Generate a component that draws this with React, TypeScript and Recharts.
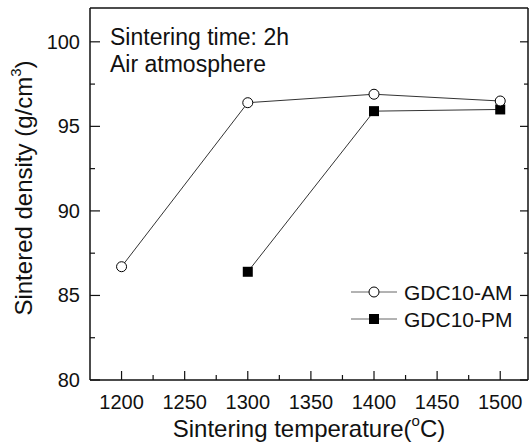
import { LineChart, Line, XAxis, YAxis, Legend } from "recharts";

const amTemps = [1200, 1300, 1400, 1500];
const amDensity = [86.7, 96.4, 96.9, 96.5];
const pmTemps = [1300, 1400, 1500];
const pmDensity = [86.4, 95.9, 96.0];

const xTicks = [1200, 1225, 1250, 1275, 1300, 1325, 1350, 1375, 1400, 1425, 1450, 1475, 1500];
const yTicks = [80, 82.5, 85, 87.5, 90, 92.5, 95, 97.5, 100];

const amData = amTemps.map((t, i) => ({ t, am: amDensity[i] }));
const pmData = pmTemps.map((t, i) => ({ t, pm: pmDensity[i] }));

const FONT = "'Liberation Sans', Arial, sans-serif";
const INK = "#111";

const isMajorX = (v: number) => v % 50 === 0;
const isMajorY = (v: number) => v % 5 === 0;

const BottomTick = (props: any) => {
  const { x, y, payload } = props;
  const major = isMajorX(payload.value);
  return (
    <g>
      <line x1={x} y1={y} x2={x} y2={y - (major ? 9 : 5)} stroke={INK} strokeWidth={1.2} />
      {major && (
        <text x={x} y={y + 29} textAnchor="middle" fontSize={20} fontFamily={FONT} fill={INK}>
          {payload.value}
        </text>
      )}
    </g>
  );
};

const TopTick = (props: any) => {
  const { x, y, payload } = props;
  const major = isMajorX(payload.value);
  return <line x1={x} y1={y} x2={x} y2={y + (major ? 8 : 4)} stroke={INK} strokeWidth={1.2} />;
};

const LeftTick = (props: any) => {
  const { x, y, payload } = props;
  const major = isMajorY(payload.value);
  return (
    <g>
      <line x1={x} y1={y} x2={x + (major ? 10 : 5)} y2={y} stroke={INK} strokeWidth={1.2} />
      {major && (
        <text x={x - 10} y={y + 7} textAnchor="end" fontSize={20} fontFamily={FONT} fill={INK}>
          {payload.value}
        </text>
      )}
    </g>
  );
};

const RightTick = (props: any) => {
  const { x, y, payload } = props;
  const major = isMajorY(payload.value);
  return <line x1={x} y1={y} x2={x - (major ? 8 : 4)} y2={y} stroke={INK} strokeWidth={1.2} />;
};

const SquareDot = (props: any) => {
  const { cx, cy, key } = props;
  if (cx == null || cy == null) return <g key={key} />;
  return <rect key={key} x={cx - 5} y={cy - 5} width={10} height={10} fill="#000" />;
};

const XTitle = (props: any) => {
  const { viewBox } = props;
  const cx = viewBox.x + viewBox.width / 2;
  return (
    <text x={cx} y={viewBox.y + 57} textAnchor="middle" fontSize={24} fontFamily={FONT} fill={INK}>
      Sintering temperature(
      <tspan dy={-11} fontSize={15}>o</tspan>
      <tspan dy={11}>C)</tspan>
    </text>
  );
};

const YTitle = () => (
  <text
    x={32}
    y={188}
    transform="rotate(-90 32 188)"
    textAnchor="middle"
    fontSize={24}
    fontFamily={FONT}
    fill={INK}
  >
    Sintered density (g/cm
    <tspan dy={-11} fontSize={15}>3</tspan>
    <tspan dy={11}>)</tspan>
  </text>
);

const legendItems = [
  { name: "GDC10-AM", marker: "circle" },
  { name: "GDC10-PM", marker: "square" },
];

const LegendBox = () => (
  <svg width={180} height={60} style={{ display: "block" }}>
    {legendItems.map((item, i) => {
      const cy = 12 + i * 27;
      return (
        <g key={item.name}>
          <line x1={0} y1={cy} x2={46} y2={cy} stroke="#666" strokeWidth={1} />
          {item.marker === "circle" ? (
            <circle cx={23} cy={cy} r={5} fill="#fff" stroke="#000" strokeWidth={1} />
          ) : (
            <rect x={18} y={cy - 5} width={10} height={10} fill="#000" />
          )}
          <text x={53} y={cy + 7.5} fontSize={21} fontFamily={FONT} fill={INK}>
            {item.name}
          </text>
        </g>
      );
    })}
  </svg>
);

export default function App() {
  return (
    <div style={{ position: "absolute", left: 0, top: 0, width: 529, height: 445, background: "#fff" }}>
      <LineChart width={529} height={445} margin={{ top: 0, right: 0, bottom: 0, left: 0 }}>
        <XAxis
          xAxisId="b"
          dataKey="t"
          type="number"
          domain={[1175, 1522]}
          ticks={xTicks}
          allowDataOverflow
          orientation="bottom"
          height={65}
          tickSize={0}
          tickMargin={0}
          tickLine={false}
          tick={<BottomTick />}
          interval={0}
          axisLine={{ stroke: INK, strokeWidth: 1.5 }}
          label={<XTitle />}
        />
        <XAxis
          xAxisId="t"
          type="number"
          domain={[1175, 1522]}
          ticks={xTicks}
          allowDataOverflow
          orientation="top"
          height={8}
          tickSize={0}
          tickMargin={0}
          tickLine={false}
          tick={<TopTick />}
          interval={0}
          axisLine={{ stroke: INK, strokeWidth: 1.5 }}
        />
        <YAxis
          yAxisId="l"
          type="number"
          domain={[80, 102]}
          ticks={yTicks}
          allowDataOverflow
          orientation="left"
          width={90}
          tickSize={0}
          tickMargin={0}
          tickLine={false}
          tick={<LeftTick />}
          interval={0}
          axisLine={{ stroke: INK, strokeWidth: 1.5 }}
          label={<YTitle />}
        />
        <YAxis
          yAxisId="r"
          type="number"
          domain={[80, 102]}
          ticks={yTicks}
          allowDataOverflow
          orientation="right"
          width={1}
          tickSize={0}
          tickMargin={0}
          tickLine={false}
          tick={<RightTick />}
          interval={0}
          axisLine={{ stroke: INK, strokeWidth: 1.5 }}
        />
        <Line
          xAxisId="b"
          yAxisId="l"
          data={pmData}
          dataKey="pm"
          name="GDC10-PM"
          stroke="#333"
          strokeWidth={1}
          dot={<SquareDot />}
          activeDot={false}
          isAnimationActive={false}
        />
        <Line
          xAxisId="b"
          yAxisId="l"
          data={amData}
          dataKey="am"
          name="GDC10-AM"
          stroke="#333"
          strokeWidth={1}
          dot={{ r: 5, fill: "#fff", stroke: "#000", strokeWidth: 1 }}
          activeDot={false}
          isAnimationActive={false}
        />
        <Legend
          layout="horizontal"
          verticalAlign="middle"
          align="center"
          content={<LegendBox />}
          wrapperStyle={{ position: "absolute", left: 351, top: 280, width: 180 }}
        />
      </LineChart>
      <div
        style={{
          position: "absolute",
          left: 110,
          top: 24,
          fontFamily: FONT,
          fontSize: 23,
          lineHeight: "27px",
          color: INK,
        }}
      >
        <div>Sintering time: 2h</div>
        <div>Air atmosphere</div>
      </div>
    </div>
  );
}
